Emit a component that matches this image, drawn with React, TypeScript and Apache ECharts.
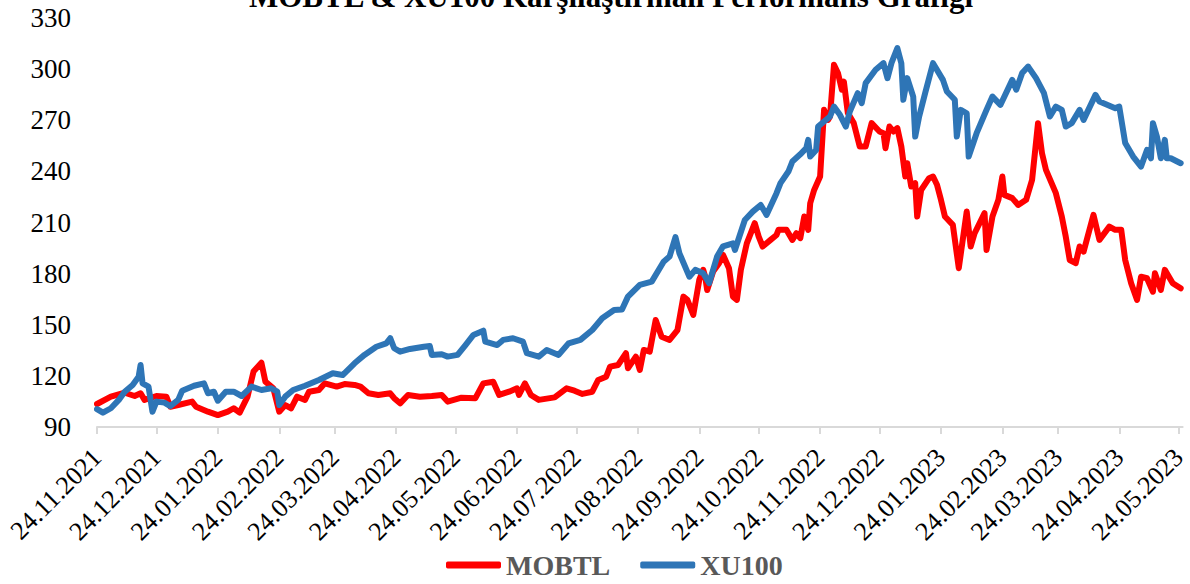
import React, { useEffect, useRef } from 'react';
import * as echarts from 'echarts';

const TITLE = 'MOBTL & XU100 Karşılaştırmalı Performans Grafiği';
const seriesNames = ['MOBTL', 'XU100'];
const axisStart = '2021-11-24';
const axisEnd = '2023-05-26';
const yMin = 90;
const yMax = 330;
const yStep = 30;

const tickDates = [
  '2021-11-24', '2021-12-24', '2022-01-24', '2022-02-24', '2022-03-24', '2022-04-24',
  '2022-05-24', '2022-06-24', '2022-07-24', '2022-08-24', '2022-09-24', '2022-10-24',
  '2022-11-24', '2022-12-24', '2023-01-24', '2023-02-24', '2023-03-24', '2023-04-24', '2023-05-24',
];

const mobtl: [string, number][] = [
  ['2021-11-24', 103.5], ['2021-12-01', 107.8], ['2021-12-08', 110.1], ['2021-12-13', 108.2],
  ['2021-12-16', 109.8], ['2021-12-18', 105.9], ['2021-12-24', 108.2], ['2021-12-29', 107.8],
  ['2021-12-31', 101.9], ['2022-01-04', 102.9], ['2022-01-11', 104.9], ['2022-01-13', 101.9],
  ['2022-01-19', 99.0], ['2022-01-24', 97.0], ['2022-01-29', 99.0], ['2022-02-01', 101.0],
  ['2022-02-04', 98.4], ['2022-02-08', 107.8], ['2022-02-11', 122.5], ['2022-02-15', 127.7],
  ['2022-02-17', 116.6], ['2022-02-21', 112.7], ['2022-02-24', 99.0], ['2022-02-27', 102.9],
  ['2022-03-02', 101.0], ['2022-03-05', 107.8], ['2022-03-09', 105.9], ['2022-03-11', 110.7],
  ['2022-03-16', 111.7], ['2022-03-19', 115.6], ['2022-03-25', 113.7], ['2022-03-29', 115.2],
  ['2022-04-03', 114.7], ['2022-04-06', 113.7], ['2022-04-10', 109.8], ['2022-04-15', 108.8],
  ['2022-04-21', 109.8], ['2022-04-23', 106.9], ['2022-04-26', 103.9], ['2022-04-30', 108.8],
  ['2022-05-06', 107.8], ['2022-05-12', 108.2], ['2022-05-17', 108.8], ['2022-05-20', 104.9],
  ['2022-05-27', 107.2], ['2022-06-03', 106.9], ['2022-06-07', 115.6], ['2022-06-12', 116.6],
  ['2022-06-15', 108.8], ['2022-06-20', 110.7], ['2022-06-24', 112.7], ['2022-06-25', 108.8],
  ['2022-06-28', 115.6], ['2022-07-01', 108.8], ['2022-07-05', 105.9], ['2022-07-13', 107.4],
  ['2022-07-19', 112.7], ['2022-07-23', 111.3], ['2022-07-27', 109.4], ['2022-08-01', 110.7],
  ['2022-08-04', 117.6], ['2022-08-08', 119.5], ['2022-08-10', 125.4], ['2022-08-14', 126.4],
  ['2022-08-18', 133.3], ['2022-08-19', 124.5], ['2022-08-23', 131.3], ['2022-08-25', 123.5],
  ['2022-08-27', 135.2], ['2022-08-30', 134.2], ['2022-09-02', 152.8], ['2022-09-05', 143.0],
  ['2022-09-09', 141.1], ['2022-09-13', 146.9], ['2022-09-16', 166.5], ['2022-09-18', 164.6],
  ['2022-09-21', 155.8], ['2022-09-24', 176.3], ['2022-09-26', 182.2], ['2022-09-27', 178.2],
  ['2022-09-28', 170.4], ['2022-10-01', 181.2], ['2022-10-04', 186.1], ['2022-10-06', 191.0],
  ['2022-10-09', 183.2], ['2022-10-11', 166.5], ['2022-10-13', 164.6], ['2022-10-15', 182.2],
  ['2022-10-18', 197.8], ['2022-10-22', 209.6], ['2022-10-24', 201.7], ['2022-10-26', 195.9],
  ['2022-10-30', 199.8], ['2022-11-02', 202.7], ['2022-11-03', 205.7], ['2022-11-07', 205.7],
  ['2022-11-10', 199.8], ['2022-11-12', 203.7], ['2022-11-14', 200.8], ['2022-11-16', 213.5],
  ['2022-11-18', 205.7], ['2022-11-19', 221.3], ['2022-11-21', 229.1], ['2022-11-24', 237.0],
  ['2022-11-26', 276.1], ['2022-11-28', 270.2], ['2022-11-29', 272.2], ['2022-12-01', 302.5],
  ['2022-12-03', 297.7], ['2022-12-05', 287.9], ['2022-12-06', 292.7], ['2022-12-08', 274.2],
  ['2022-12-11', 268.3], ['2022-12-14', 254.6], ['2022-12-17', 254.6], ['2022-12-20', 268.3],
  ['2022-12-24', 263.4], ['2022-12-26', 262.4], ['2022-12-27', 253.6], ['2022-12-29', 266.3],
  ['2022-12-31', 263.4], ['2023-01-02', 265.4], ['2023-01-04', 254.6], ['2023-01-06', 237.0],
  ['2023-01-07', 244.8], ['2023-01-09', 231.1], ['2023-01-11', 233.1], ['2023-01-12', 213.5],
  ['2023-01-14', 229.1], ['2023-01-18', 236.0], ['2023-01-20', 237.0], ['2023-01-22', 232.1],
  ['2023-01-24', 223.3], ['2023-01-26', 213.5], ['2023-01-30', 208.6], ['2023-02-02', 183.2],
  ['2023-02-06', 216.4], ['2023-02-08', 195.9], ['2023-02-10', 203.7], ['2023-02-15', 215.5],
  ['2023-02-16', 193.9], ['2023-02-19', 213.5], ['2023-02-22', 223.3], ['2023-02-24', 237.0],
  ['2023-02-25', 226.2], ['2023-03-01', 224.3], ['2023-03-04', 220.3], ['2023-03-08', 223.3],
  ['2023-03-11', 235.0], ['2023-03-14', 268.3], ['2023-03-16', 250.7], ['2023-03-18', 240.9],
  ['2023-03-23', 227.2], ['2023-03-26', 213.5], ['2023-03-28', 201.7], ['2023-03-30', 188.0],
  ['2023-04-02', 186.1], ['2023-04-04', 195.9], ['2023-04-06', 192.9], ['2023-04-11', 214.5],
  ['2023-04-14', 199.8], ['2023-04-19', 207.6], ['2023-04-22', 205.7], ['2023-04-25', 205.7],
  ['2023-04-27', 188.0], ['2023-04-30', 174.4], ['2023-05-03', 164.6], ['2023-05-05', 178.2],
  ['2023-05-08', 177.3], ['2023-05-11', 169.4], ['2023-05-12', 180.2], ['2023-05-15', 170.4],
  ['2023-05-17', 182.2], ['2023-05-21', 174.4], ['2023-05-25', 171.4],
];

const xu100: [string, number][] = [
  ['2021-11-24', 100.5], ['2021-11-27', 98.4], ['2021-12-01', 101.0], ['2021-12-05', 105.9],
  ['2021-12-08', 110.7], ['2021-12-12', 114.7], ['2021-12-15', 119.5], ['2021-12-16', 126.4],
  ['2021-12-17', 115.6], ['2021-12-20', 113.7], ['2021-12-22', 99.0], ['2021-12-24', 104.9],
  ['2021-12-28', 104.3], ['2021-12-31', 102.3], ['2022-01-04', 105.9], ['2022-01-06', 111.3],
  ['2022-01-12', 114.2], ['2022-01-17', 115.6], ['2022-01-19', 109.8], ['2022-01-22', 110.7],
  ['2022-01-24', 105.4], ['2022-01-28', 110.7], ['2022-02-01', 110.7], ['2022-02-05', 108.2],
  ['2022-02-10', 113.7], ['2022-02-15', 111.7], ['2022-02-20', 112.7], ['2022-02-23', 110.7],
  ['2022-02-24', 102.9], ['2022-02-27', 107.8], ['2022-03-03', 111.7], ['2022-03-09', 114.2],
  ['2022-03-16', 117.6], ['2022-03-23', 121.5], ['2022-03-28', 120.5], ['2022-04-03', 127.4],
  ['2022-04-08', 132.3], ['2022-04-14', 137.1], ['2022-04-19', 139.1], ['2022-04-21', 142.1],
  ['2022-04-23', 136.2], ['2022-04-26', 134.2], ['2022-05-01', 135.8], ['2022-05-08', 137.1],
  ['2022-05-11', 137.5], ['2022-05-12', 132.3], ['2022-05-17', 132.7], ['2022-05-20', 131.3],
  ['2022-05-25', 132.3], ['2022-05-29', 138.1], ['2022-06-02', 144.0], ['2022-06-07', 146.5],
  ['2022-06-08', 140.1], ['2022-06-14', 138.1], ['2022-06-17', 141.1], ['2022-06-22', 142.1],
  ['2022-06-27', 140.1], ['2022-06-29', 133.3], ['2022-07-05', 131.3], ['2022-07-09', 135.2],
  ['2022-07-15', 132.3], ['2022-07-20', 139.1], ['2022-07-26', 141.1], ['2022-08-01', 146.9],
  ['2022-08-06', 153.8], ['2022-08-12', 158.7], ['2022-08-16', 159.0], ['2022-08-19', 166.5],
  ['2022-08-25', 173.4], ['2022-08-31', 175.3], ['2022-09-06', 187.0], ['2022-09-09', 190.0],
  ['2022-09-12', 201.4], ['2022-09-14', 191.9], ['2022-09-19', 178.2], ['2022-09-22', 182.2],
  ['2022-09-26', 180.2], ['2022-09-29', 174.4], ['2022-10-03', 190.0], ['2022-10-06', 196.0],
  ['2022-10-11', 197.8], ['2022-10-12', 193.9], ['2022-10-17', 211.5], ['2022-10-21', 216.4],
  ['2022-10-25', 220.3], ['2022-10-28', 214.5], ['2022-11-02', 227.2], ['2022-11-04', 233.1],
  ['2022-11-08', 239.9], ['2022-11-10', 245.8], ['2022-11-14', 250.0], ['2022-11-17', 253.6],
  ['2022-11-18', 258.5], ['2022-11-19', 248.7], ['2022-11-22', 252.6], ['2022-11-23', 266.3],
  ['2022-11-29', 272.2], ['2022-12-01', 278.0], ['2022-12-04', 273.2], ['2022-12-07', 266.3],
  ['2022-12-09', 275.1], ['2022-12-13', 285.9], ['2022-12-15', 280.0], ['2022-12-17', 291.8],
  ['2022-12-22', 299.6], ['2022-12-26', 303.5], ['2022-12-28', 294.7], ['2022-12-30', 303.5],
  ['2023-01-02', 312.3], ['2023-01-04', 303.5], ['2023-01-05', 282.0], ['2023-01-07', 294.7],
  ['2023-01-10', 283.9], ['2023-01-11', 260.4], ['2023-01-13', 272.2], ['2023-01-16', 285.9],
  ['2023-01-20', 303.5], ['2023-01-25', 293.7], ['2023-01-27', 286.9], ['2023-01-31', 282.0],
  ['2023-02-01', 260.4], ['2023-02-03', 276.1], ['2023-02-06', 274.1], ['2023-02-07', 248.7],
  ['2023-02-11', 262.4], ['2023-02-16', 276.1], ['2023-02-19', 283.9], ['2023-02-23', 279.0],
  ['2023-03-01', 293.7], ['2023-03-03', 287.9], ['2023-03-06', 297.7], ['2023-03-09', 301.5],
  ['2023-03-13', 294.7], ['2023-03-17', 285.9], ['2023-03-20', 272.2], ['2023-03-23', 278.0],
  ['2023-03-26', 276.1], ['2023-03-28', 266.3], ['2023-03-31', 268.3], ['2023-04-04', 276.1],
  ['2023-04-06', 270.2], ['2023-04-12', 284.9], ['2023-04-14', 281.0], ['2023-04-22', 277.1],
  ['2023-04-24', 278.0], ['2023-04-27', 256.6], ['2023-05-01', 248.7], ['2023-05-05', 242.8],
  ['2023-05-08', 252.6], ['2023-05-10', 247.7], ['2023-05-11', 268.3], ['2023-05-13', 260.4],
  ['2023-05-15', 247.7], ['2023-05-17', 258.5], ['2023-05-18', 247.7], ['2023-05-20', 247.7],
  ['2023-05-25', 244.8],
];

const DAY = 86400000;

function toTs(s: string): number {
  const [y, m, d] = s.split('-').map(Number);
  return Date.UTC(y, m - 1, d);
}

const START_TS = toTs(axisStart);

function dayIndex(s: string): number {
  return Math.round((toTs(s) - START_TS) / DAY);
}

function fmtDay(v: number): string {
  const d = new Date(START_TS + Math.round(v) * DAY);
  const dd = String(d.getUTCDate()).padStart(2, '0');
  const mm = String(d.getUTCMonth() + 1).padStart(2, '0');
  return `${dd}.${mm}.${d.getUTCFullYear()}`;
}

const SERIF = '"Liberation Serif", "Times New Roman", serif';

export default function App() {
  const ref = useRef<HTMLDivElement>(null);

  useEffect(() => {
    document.body.style.margin = '0';
    if (!ref.current) return;
    const chart = echarts.init(ref.current, null, { renderer: 'svg' });
    const ticks = tickDates.map(dayIndex);
    chart.setOption({
      animation: false,
      backgroundColor: '#ffffff',
      graphic: [
        {
          type: 'text',
          x: 611,
          y: -4,
          style: {
            text: TITLE,
            font: `bold 31px ${SERIF}`,
            fill: '#000000',
            textAlign: 'center',
            textVerticalAlign: 'middle',
          },
        },
      ],
      legend: {
        data: seriesNames,
        left: 441,
        top: 546,
        icon: 'roundRect',
        itemWidth: 55,
        itemHeight: 7,
        itemGap: 30,
        textStyle: {
          fontFamily: SERIF,
          fontSize: 28,
          fontWeight: 'bold',
          color: '#595959',
        },
      },
      grid: { left: 97, right: 7, top: 18, bottom: 157, containLabel: false },
      xAxis: {
        type: 'value',
        min: 0,
        max: dayIndex(axisEnd),
        axisLine: { show: true, onZero: false, lineStyle: { color: '#D9D9D9', width: 2 } },
        axisTick: {
          show: true,
          customValues: ticks,
          length: 7,
          lineStyle: { color: '#D9D9D9', width: 2 },
        },
        axisLabel: {
          customValues: ticks,
          rotate: 45,
          margin: 26,
          fontFamily: SERIF,
          fontSize: 26,
          color: '#000000',
          formatter: (v: number) => fmtDay(v),
        },
        splitLine: { show: false },
      },
      yAxis: {
        type: 'value',
        min: yMin,
        max: yMax,
        interval: yStep,
        axisLine: { show: false },
        axisTick: { show: false },
        splitLine: { show: false },
        axisLabel: {
          fontFamily: SERIF,
          fontSize: 27,
          color: '#000000',
          margin: 26,
        },
      },
      series: [
        {
          name: seriesNames[0],
          type: 'line',
          data: mobtl.map(([d, v]) => [dayIndex(d), v]),
          showSymbol: false,
          symbol: 'none',
          lineStyle: { color: '#FF0000', width: 6, cap: 'round', join: 'round' },
          itemStyle: { color: '#FF0000' },
          z: 2,
        },
        {
          name: seriesNames[1],
          type: 'line',
          data: xu100.map(([d, v]) => [dayIndex(d), v]),
          showSymbol: false,
          symbol: 'none',
          lineStyle: { color: '#2E75B6', width: 6, cap: 'round', join: 'round' },
          itemStyle: { color: '#2E75B6' },
          z: 3,
        },
      ],
    });
    return () => chart.dispose();
  }, []);

  return <div ref={ref} style={{ width: 1190, height: 584 }} />;
}
